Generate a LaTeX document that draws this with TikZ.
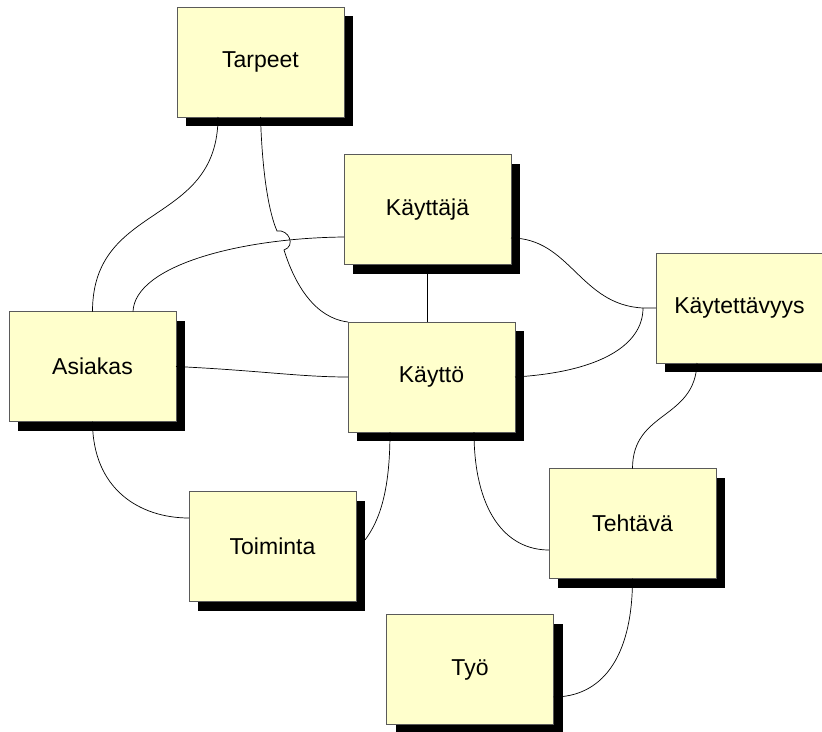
\documentclass[tikz,border=0pt]{standalone}
\usepackage{fontspec}
\setmainfont{Liberation Sans}
\usetikzlibrary{calc,shadows}
\definecolor{boxfill}{HTML}{FFFFCC}
\definecolor{boxedge}{HTML}{5A5A5A}
\tikzset{
  concept/.style={draw=boxedge, line width=0.8pt, fill=boxfill,
    minimum width=167pt, minimum height=110pt, inner sep=0pt, outer sep=0pt,
    font=\fontsize{23}{27}\selectfont, text=black,
    drop shadow={shadow xshift=9pt, shadow yshift=-9pt, fill=black, opacity=1}},
  link/.style={draw=black, line width=0.7pt}
}
\begin{document}
\begin{tikzpicture}[x=1pt,y=-1pt]
\useasboundingbox (0,0) rectangle (822,731);
\clip (0,0) rectangle (822,731);

% concept boxes
\node[concept] (tarpeet)      at (260.5,62)    {Tarpeet};
\node[concept] (kayttaja)     at (427.5,209.5) {Käyttäjä};
\node[concept] (kaytettavyys) at (739.5,308)   {Käytettävyys};
\node[concept] (asiakas)      at (92.5,366.5)  {Asiakas};
\node[concept] (kaytto)       at (431.5,377)   {Käyttö};
\node[concept] (tehtava)      at (632.5,523.5) {Tehtävä};
\node[concept] (toiminta)     at (272.5,546.5) {Toiminta};
\node[concept] (tyo)          at (470,669.5)   {Työ};

% helper points: the hop over a crossing line, and the shared junction
\coordinate (hopA) at ($(tarpeet.south)+(16.5,114)$);
\coordinate (hopB) at ($(tarpeet.south)+(23.5,133)$);
\coordinate (join) at ($(kaytettavyys.west)+(-13,0)$);

% links
\draw[link] ($(tarpeet.south)+(-42.5,0)$) .. controls +(0,110) and +(0,-110) .. (asiakas.north);
\draw[link] (tarpeet.south) .. controls +(2,63) and +(-7,-16) .. (hopA)
  .. controls +(12,-2) and +(12,-4) .. (hopB)
  .. controls +(11,35) and +(-33,-4) .. (kaytto.north west);
\draw[link] ($(kayttaja.west)+(0,27.5)$) .. controls +(-104,1) and +(2,-46) .. ($(asiakas.north)+(40.5,0)$);
\draw[link] (kayttaja.south) -- (kayttaja.south |- kaytto.north);
\draw[link] ($(kayttaja.east)+(0,28.5)$) .. controls +(59,0) and +(-63,-3) .. (join) -- (kaytettavyys.west);
\draw[link] (kaytto.east) .. controls +(85,-5) and +(0,37) .. (join);
\draw[link] (asiakas.east) .. controls +(84,4) and +(-48,0) .. (kaytto.west);
\draw[link] (asiakas.south) .. controls +(0,68) and +(-49,0) .. ($(toiminta.west)+(0,-28.5)$);
\draw[link] ($(kaytto.south)+(-41.5,0)$) .. controls +(0,58) and +(15,-20) .. ($(toiminta.east)+(9,-6.5)$);
\draw[link] ($(kaytto.south)+(42.5,0)$) .. controls +(0,78) and +(-44,0) .. ($(tehtava.west)+(0,26.5)$);
\draw[link] ($(kaytettavyys.south)+(-42.5,0)$) .. controls +(-2,57) and +(0,-58) .. (tehtava.north);
\draw[link] (tehtava.south) .. controls +(0,81) and +(47,0) .. ($(tyo.east)+(0,27.5)$);
\end{tikzpicture}
\end{document}
